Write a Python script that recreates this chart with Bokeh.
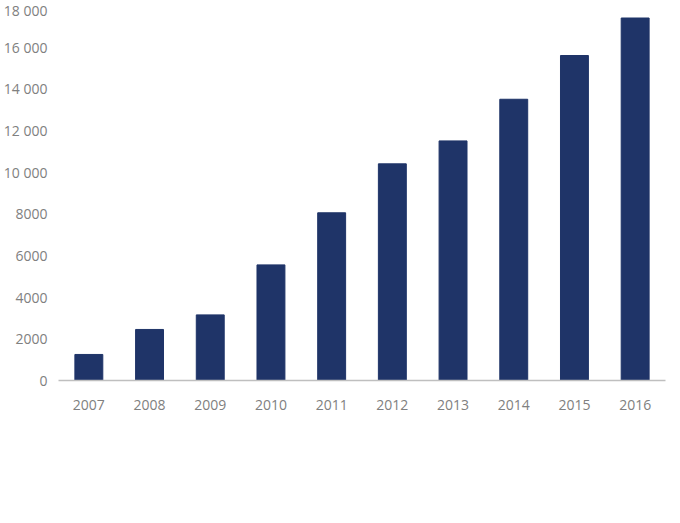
from bokeh.plotting import figure
from bokeh.models import ColumnDataSource, FixedTicker, Range1d
from bokeh.embed import file_html
from bokeh.resources import INLINE

years = ["2007", "2008", "2009", "2010", "2011", "2012", "2013", "2014", "2015", "2016"]
values = [1250, 2450, 3150, 5550, 8050, 10400, 11500, 13500, 15600, 17400]
y_ticks = [0, 2000, 4000, 6000, 8000, 10000, 12000, 14000, 16000, 18000]
y_tick_labels = ["0", "2000", "4000", "6000", "8000", "10 000", "12 000", "14 000", "16 000", "18 000"]

src = ColumnDataSource(dict(year=years, value=values))

p = figure(x_range=years, y_range=Range1d(0, 18000), width=672, height=507,
           output_backend="svg", toolbar_location=None,
           min_border_left=40, min_border_right=7, min_border_top=5, min_border_bottom=127)
p.vbar(x="year", top="value", width=0.46, source=src, color="#1f3468")

p.outline_line_color = None
p.xgrid.grid_line_color = None
p.ygrid.grid_line_color = None

FONT = "Open Sans"
LABEL_COLOR = "#808080"

p.yaxis.ticker = FixedTicker(ticks=y_ticks)
p.yaxis.major_label_overrides = {t: l for t, l in zip(y_ticks, y_tick_labels)}
p.yaxis.axis_line_color = None
p.yaxis.major_tick_line_color = None
p.yaxis.minor_tick_line_color = None
p.yaxis.major_label_standoff = 5
p.yaxis.major_label_text_font = FONT
p.yaxis.major_label_text_font_size = "14px"
p.yaxis.major_label_text_color = LABEL_COLOR

p.xaxis.axis_line_color = "#bfbfbf"
p.xaxis.axis_line_width = 1.5
p.xaxis.major_tick_line_color = None
p.xaxis.minor_tick_line_color = None
p.xaxis.major_label_standoff = 13
p.xaxis.major_label_text_font = FONT
p.xaxis.major_label_text_font_size = "14px"
p.xaxis.major_label_text_color = LABEL_COLOR

p.x_range.range_padding = 0

open("out.html", "w").write(file_html(p, INLINE))
